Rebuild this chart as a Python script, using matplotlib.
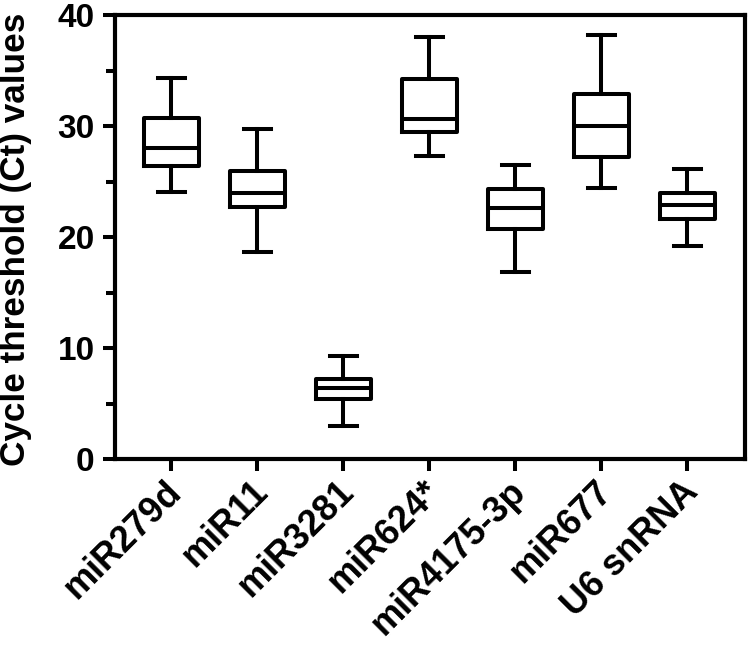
import matplotlib
matplotlib.use("Agg")
import matplotlib.pyplot as plt
import matplotlib.transforms as mtransforms
from matplotlib.ticker import MultipleLocator

categories = ["miR279d", "miR11", "miR3281", "miR624*", "miR4175-3p", "miR677", "U6 snRNA"]
whisker_low = [24.1, 18.7, 3.0, 27.3, 16.9, 24.4, 19.2]
q1 = [26.4, 22.7, 5.4, 29.5, 20.7, 27.25, 21.6]
median = [28.0, 24.0, 6.45, 30.65, 22.65, 30.0, 22.9]
q3 = [30.7, 25.95, 7.2, 34.2, 24.3, 32.85, 24.0]
whisker_high = [34.3, 29.7, 9.3, 38.0, 26.5, 38.2, 26.15]

plt.rcParams['font.family'] = ['Liberation Sans', 'DejaVu Sans']
plt.rcParams['font.weight'] = 'bold'

fig = plt.figure(figsize=(7.48, 6.49), dpi=100)
ax = fig.add_axes([0.1537, 0.2923, 0.8419, 0.6846])

stats = []
for i, c in enumerate(categories):
    stats.append(dict(label=c, whislo=whisker_low[i], q1=q1[i], med=median[i],
                      q3=q3[i], whishi=whisker_high[i], fliers=[]))

lw = 2.9
positions = list(range(1, len(categories) + 1))
ax.bxp(stats, positions=positions, widths=0.64, showfliers=False,
       boxprops=dict(color='black', linewidth=lw),
       medianprops=dict(color='black', linewidth=lw),
       whiskerprops=dict(color='black', linewidth=lw),
       capprops=dict(color='black', linewidth=lw),
       capwidths=0.31)

ax.set_xlim(0.345, 7.667)
ax.set_ylim(0, 40)
ax.yaxis.set_major_locator(MultipleLocator(10))
ax.yaxis.set_minor_locator(MultipleLocator(5))

for s in ax.spines.values():
    s.set_linewidth(3.0)

ax.tick_params(axis='y', which='major', length=8.6, width=2.9, labelsize=24, pad=6)
ax.tick_params(axis='y', which='minor', length=6.5, width=2.9)
ax.tick_params(axis='x', which='major', length=8.6, width=2.9, labelsize=26, pad=2)

ax.set_xticks(positions)
ax.set_xticklabels(categories, rotation=45, ha='right', rotation_mode='anchor',
                   fontweight='bold')
offset = mtransforms.ScaledTranslation(-5 / 72, 0, fig.dpi_scale_trans)
for lab in ax.get_xticklabels():
    lab.set_transform(lab.get_transform() + offset)
for lab in ax.get_yticklabels():
    lab.set_fontweight('bold')

ax.set_ylabel("Cycle threshold (Ct) values", fontsize=25.3, fontweight='bold')
ax.yaxis.set_label_coords(-0.132, 0.495)

fig.savefig("out.png", dpi=100)
